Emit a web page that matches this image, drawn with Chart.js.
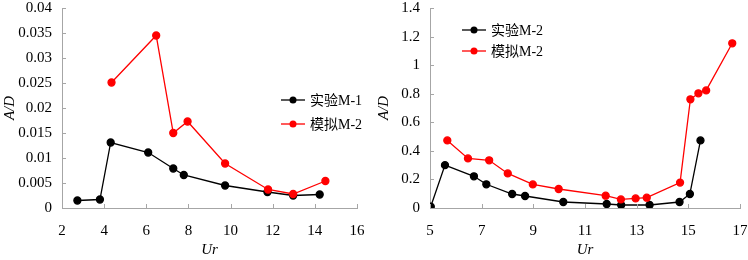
<!DOCTYPE html>
<html lang="zh">
<head>
<meta charset="UTF-8" />
<title>A/D - Ur</title>
<script src="https://cdn.jsdelivr.net/npm/chart.js"></script>
<style>
  html, body { margin: 0; padding: 0; background: #fff; }
  .wrap { position: relative; width: 748px; height: 260px; }
  #chartLeft { position: absolute; left: 0; top: 0; }
  #chartRight { position: absolute; left: 374px; top: 0; }
</style>
</head>
<body>
<div class="wrap">
  <canvas id="chartLeft" width="374" height="260"></canvas>
  <canvas id="chartRight" width="374" height="260"></canvas>
</div>
<script>
// left panel
const expM1Ur = [2.73, 3.80, 4.31, 6.09, 7.28, 7.78, 9.74, 11.75, 12.97, 14.23];
const expM1AD = [0.0015, 0.0017, 0.0131, 0.0111, 0.0079, 0.0066, 0.0045, 0.0032, 0.0025, 0.0027];
const simLeftUr = [4.35, 6.47, 7.28, 7.96, 9.74, 11.78, 12.97, 14.50];
const simLeftAD = [0.0251, 0.0345, 0.0150, 0.0173, 0.0089, 0.0037, 0.0028, 0.0054];
const leftXTicks = [2, 4, 6, 8, 10, 12, 14, 16];
const leftYTicks = [0, 0.005, 0.01, 0.015, 0.02, 0.025, 0.03, 0.035, 0.04];
const leftYLabels = ['0', '0.005', '0.01', '0.015', '0.02', '0.025', '0.03', '0.035', '0.04'];

// right panel
const expM2Ur = [5.03, 5.58, 6.70, 7.18, 8.18, 8.68, 10.16, 11.84, 12.40, 13.50, 14.66, 15.06, 15.47];
const expM2AD = [0.01, 0.30, 0.222, 0.166, 0.098, 0.084, 0.042, 0.028, 0.021, 0.021, 0.042, 0.098, 0.473];
const simRightUr = [5.67, 6.47, 7.29, 8.01, 8.98, 9.98, 11.80, 12.39, 12.96, 13.39, 14.68, 15.08, 15.39, 15.69, 16.70];
const simRightAD = [0.473, 0.347, 0.334, 0.242, 0.165, 0.133, 0.086, 0.06, 0.067, 0.072, 0.178, 0.761, 0.803, 0.823, 1.153];
const rightXTicks = [5, 7, 9, 11, 13, 15, 17];
const rightYTicks = [0, 0.2, 0.4, 0.6, 0.8, 1, 1.2, 1.4];
const rightYLabels = ['0', '0.2', '0.4', '0.6', '0.8', '1', '1.2', '1.4'];

const FONT = "'Liberation Serif', 'Times New Roman', 'Noto Sans CJK SC', serif";
const AXIS_GREY = '#a6a6a6';

function pts(xs, ys) {
  return xs.map((x, i) => ({ x: x, y: ys[i] }));
}

// short tick marks pointing into the plot, like the original
const innerTicks = {
  id: 'innerTicks',
  afterDatasetsDraw(chart) {
    const ctx = chart.ctx;
    const xs = chart.scales.x, ys = chart.scales.y;
    const a = chart.chartArea;
    ctx.save();
    ctx.strokeStyle = AXIS_GREY;
    ctx.lineWidth = 1;
    ctx.beginPath();
    xs.ticks.forEach(t => {
      const px = Math.round(xs.getPixelForValue(t.value)) + 0.5;
      ctx.moveTo(px, a.bottom);
      ctx.lineTo(px, a.bottom - 4);
    });
    ys.ticks.forEach(t => {
      const py = Math.round(ys.getPixelForValue(t.value)) + 0.5;
      ctx.moveTo(a.left, py);
      ctx.lineTo(a.left + 4, py);
    });
    ctx.stroke();
    ctx.restore();
  }
};

// legend drawn inside the plot at a fixed place
const boxLegend = {
  id: 'boxLegend',
  afterDraw(chart, args, opts) {
    const ctx = chart.ctx;
    ctx.save();
    ctx.font = '14px ' + FONT;
    ctx.textBaseline = 'middle';
    chart.data.datasets.forEach((ds, i) => {
      const y = opts.y + i * opts.gap;
      ctx.strokeStyle = ds.borderColor;
      ctx.lineWidth = 1.3;
      ctx.beginPath();
      ctx.moveTo(opts.x, y);
      ctx.lineTo(opts.x + 24, y);
      ctx.stroke();
      ctx.fillStyle = ds.backgroundColor;
      ctx.beginPath();
      ctx.arc(opts.x + 12, y, 3.5, 0, Math.PI * 2);
      ctx.fill();
      ctx.fillStyle = '#000';
      ctx.fillText(ds.label, opts.x + 29, y + 1);
    });
    ctx.restore();
  }
};

function makeChart(id, sets, xTicks, yTicks, yLabels, yWidth, padRight, legendPos) {
  return new Chart(document.getElementById(id), {
    type: 'line',
    data: {
      datasets: sets.map(s => ({
        label: s.label,
        data: s.data,
        borderColor: s.color,
        backgroundColor: s.color,
        pointBackgroundColor: s.color,
        pointBorderColor: s.color,
        pointRadius: 3.5,
        pointHoverRadius: 3.5,
        borderWidth: 1.3,
        tension: 0,
        fill: false,
        order: s.order
      }))
    },
    options: {
      responsive: false,
      animation: false,
      layout: { padding: { top: 8, right: padRight, left: 0, bottom: 0 } },
      plugins: {
        legend: { display: false },
        tooltip: { enabled: false },
        boxLegend: legendPos
      },
      scales: {
        x: {
          type: 'linear',
          min: xTicks[0],
          max: xTicks[xTicks.length - 1],
          afterBuildTicks: sc => { sc.ticks = xTicks.map(v => ({ value: v })); },
          afterFit: sc => { sc.height = 52; sc.paddingLeft = 0; sc.paddingRight = 0; },
          grid: { display: false, drawTicks: false },
          border: { display: true, color: AXIS_GREY, width: 1 },
          ticks: { color: '#000', padding: 14, maxRotation: 0, font: { family: FONT, size: 15 } },
          title: {
            display: true, text: 'Ur', color: '#000',
            padding: { top: 0, bottom: 1 },
            font: { family: FONT, size: 15, style: 'italic' }
          }
        },
        y: {
          type: 'linear',
          min: yTicks[0],
          max: yTicks[yTicks.length - 1],
          afterBuildTicks: sc => { sc.ticks = yTicks.map(v => ({ value: v })); },
          afterFit: sc => { sc.width = yWidth; sc.paddingTop = 0; sc.paddingBottom = 0; },
          grid: { display: false, drawTicks: false },
          border: { display: true, color: AXIS_GREY, width: 1 },
          ticks: {
            color: '#000', padding: 10, font: { family: FONT, size: 15 },
            callback: (v, i) => yLabels[i]
          },
          title: {
            display: true, text: 'A/D', color: '#000',
            padding: { top: 1, bottom: 0 },
            font: { family: FONT, size: 15, style: 'italic' }
          }
        }
      }
    },
    plugins: [innerTicks, boxLegend]
  });
}

makeChart('chartLeft', [
  { label: '实验M-1', data: pts(expM1Ur, expM1AD), color: '#000000', order: 2 },
  { label: '模拟M-2', data: pts(simLeftUr, simLeftAD), color: '#ff0000', order: 1 }
], leftXTicks, leftYTicks, leftYLabels, 62, 17, { x: 281, y: 100, gap: 24 });

makeChart('chartRight', [
  { label: '实验M-2', data: pts(expM2Ur, expM2AD), color: '#000000', order: 2 },
  { label: '模拟M-2', data: pts(simRightUr, simRightAD), color: '#ff0000', order: 1 }
], rightXTicks, rightYTicks, rightYLabels, 56, 8, { x: 88, y: 30, gap: 21 });
</script>
</body>
</html>
